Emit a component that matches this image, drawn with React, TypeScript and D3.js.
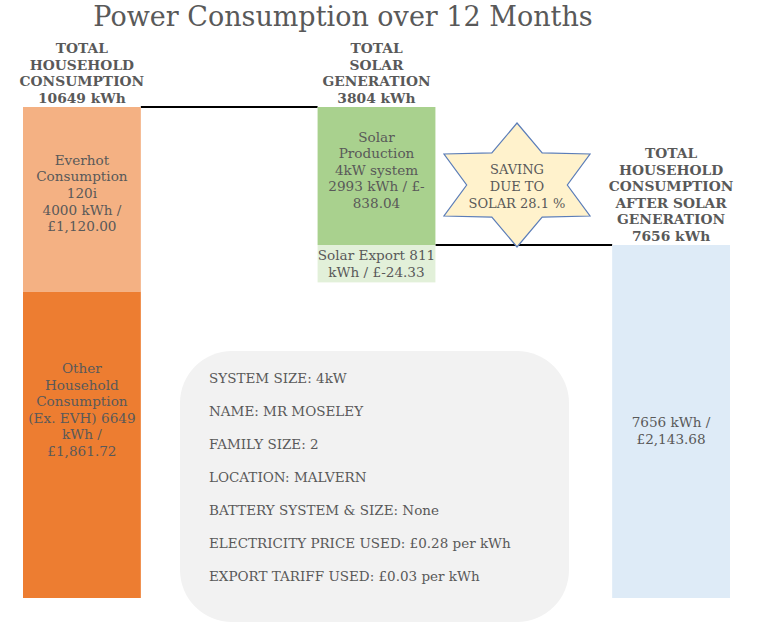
import React, { useEffect } from 'react';
import * as d3 from 'd3';

// columns of the waterfall
const columns = ['household', 'solar', 'after'];
const columnTitles = [
  ['TOTAL', 'HOUSEHOLD', 'CONSUMPTION', '10649 kWh'],
  ['TOTAL', 'SOLAR', 'GENERATION', '3804 kWh'],
  ['TOTAL', 'HOUSEHOLD', 'CONSUMPTION', 'AFTER SOLAR', 'GENERATION', '7656 kWh'],
];

// segments (kWh), drawn in order
const segColumn = ['household', 'household', 'solar', 'solar', 'after'];
const segKWh = [6649, 4000, 2993, 811, 7656];
const segColors = ['#ED7D31', '#F4B183', '#A9D18E', '#E2F0D9', '#DEEBF7'];
const segLabels = [
  ['Other', 'Household', 'Consumption', '(Ex. EVH) 6649', 'kWh /', '£1,861.72'],
  ['Everhot', 'Consumption', '120i', '4000 kWh /', '£1,120.00'],
  ['Solar', 'Production', '4kW system', '2993 kWh / £-', '838.04'],
  ['Solar Export 811', 'kWh / £-24.33'],
  ['7656 kWh /', '£2,143.68'],
];

const savingLines = ['SAVING', 'DUE TO', 'SOLAR 28.1 %'];

const infoLines = [
  'SYSTEM SIZE: 4kW',
  'NAME: MR MOSELEY',
  'FAMILY SIZE: 2',
  'LOCATION: MALVERN',
  'BATTERY SYSTEM & SIZE: None',
  'ELECTRICITY PRICE USED: £0.28 per kWh',
  'EXPORT TARIFF USED: £0.03 per kWh',
];

const W = 759;
const H = 630;
const FONT = '"DejaVu Serif", serif';
const GREY = '#595959';

const App: React.FC = () => {
  useEffect(() => {
    document.body.style.margin = '0';
  }, []);

  const total = segKWh[0] + segKWh[1];
  const y = d3.scaleLinear().domain([0, total]).range([598, 107]);
  const x = d3.scaleBand().domain(columns).range([23, 730]).paddingInner(0.6).paddingOuter(0);
  const bw = x.bandwidth();

  // waterfall: household stacks up, solar steps down from the total, after sits at 0
  const segs = segKWh.map((v, i) => {
    let lo = 0;
    let hi = 0;
    if (i === 0) { lo = 0; hi = v; }
    else if (i === 1) { lo = segKWh[0]; hi = lo + v; }
    else if (i === 2) { hi = total; lo = total - v; }
    else if (i === 3) { hi = total - segKWh[2]; lo = hi - v; }
    else { lo = 0; hi = v; }
    return { col: segColumn[i], lo, hi, color: segColors[i], label: segLabels[i] };
  });

  const labelShift = [-35, -6, -6, 0, 9];
  const lh = 16.6;

  // six-point star
  const sc = { x: 517, y: 185 };
  const R = 62;
  const r = 37;
  const sx = 1.36;
  const starPts: [number, number][] = d3.range(12).map((k) => {
    const a = -Math.PI / 2 + (k * Math.PI) / 6;
    const rad = k % 2 === 0 ? R : r;
    return [sc.x + Math.cos(a) * rad * sx, sc.y + Math.sin(a) * rad];
  });
  const starPath = d3.line()(starPts) + 'Z';

  const householdTop = y(total);
  const afterTop = y(segKWh[4]);

  return (
    <svg width={W} height={H} style={{ display: 'block', background: '#fff' }} fontFamily={FONT}>
      <text x={343} y={26} textAnchor="middle" fontSize={27} fill={GREY}>
        Power Consumption over 12 Months
      </text>

      {/* connectors */}
      <line x1={(x('household') ?? 0) + bw} x2={x('solar') ?? 0} y1={householdTop} y2={householdTop} stroke="#000" strokeWidth={2} />
      <line x1={(x('solar') ?? 0) + bw} x2={x('after') ?? 0} y1={afterTop} y2={afterTop} stroke="#000" strokeWidth={2} />

      {segs.map((s, i) => {
        const x0 = x(s.col) ?? 0;
        const y0 = y(s.hi);
        const y1 = y(s.lo);
        const cy = (y0 + y1) / 2 + labelShift[i];
        const start = cy - ((s.label.length - 1) * lh) / 2;
        return (
          <g key={i}>
            <rect x={x0} y={y0} width={bw} height={y1 - y0} fill={s.color} />
            <text textAnchor="middle" fontSize={13.6} fill={GREY}>
              {s.label.map((t, j) => (
                <tspan key={j} x={x0 + bw / 2} y={start + j * lh + 4.8}>{t}</tspan>
              ))}
            </text>
          </g>
        );
      })}

      {columns.map((c, i) => {
        const lines = columnTitles[i];
        const top = i === 2 ? afterTop : householdTop;
        const last = top - 4;
        return (
          <text key={c} textAnchor="middle" fontSize={13.8} fontWeight="bold" fill={GREY}>
            {lines.map((t, j) => (
              <tspan key={j} x={(x(c) ?? 0) + bw / 2} y={last - (lines.length - 1 - j) * lh}>{t}</tspan>
            ))}
          </text>
        );
      })}

      <path d={starPath} fill="#FFF2CC" stroke="#5B7DB8" strokeWidth={1.2} />
      <text textAnchor="middle" fontSize={13} fill={GREY}>
        {savingLines.map((t, j) => (
          <tspan key={j} x={sc.x} y={sc.y - 16 + j * 17 + 4.5}>{t}</tspan>
        ))}
      </text>

      <rect x={180} y={351} width={389} height={271} rx={52} ry={52} fill="#F2F2F2" />
      {infoLines.map((t, j) => (
        <text key={j} x={209} y={383 + j * 33} fontSize={13.5} fill={GREY}>{t}</text>
      ))}
    </svg>
  );
};

export default App;
